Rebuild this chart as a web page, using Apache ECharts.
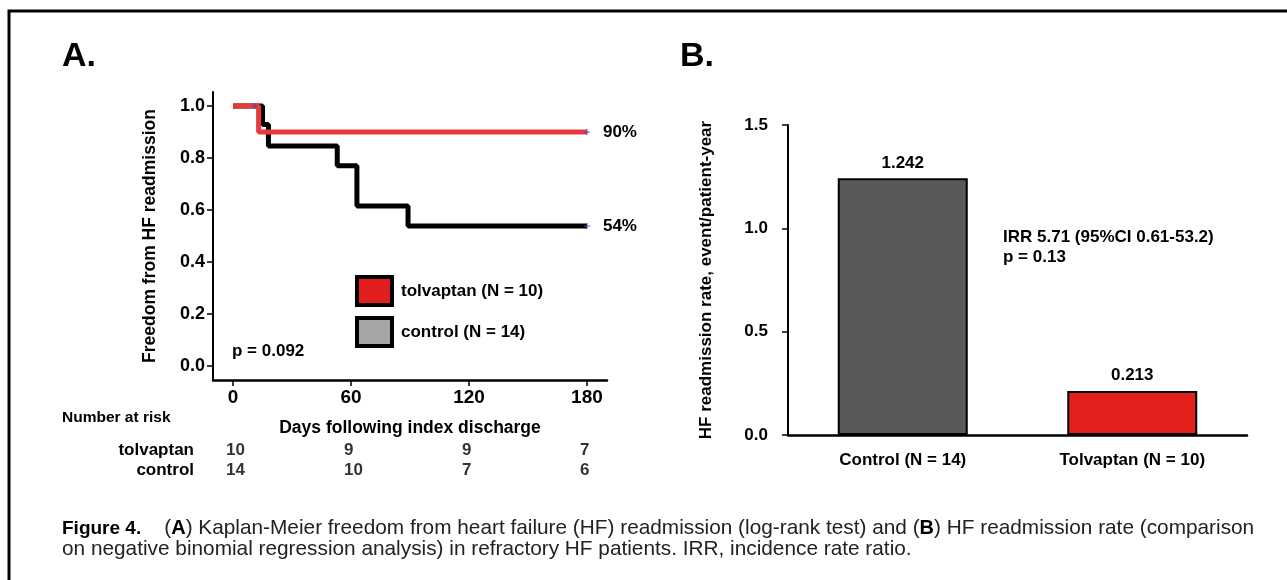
<!DOCTYPE html>
<html>
<head>
<meta charset="utf-8">
<script src="https://cdn.jsdelivr.net/npm/echarts@6/dist/echarts.min.js"></script>
<style>
  html, body { margin: 0; padding: 0; background: #fff; }
  #main { width: 1287px; height: 580px; }
</style>
</head>
<body>
<div id="main"></div>
<script>
// Kaplan-Meier steps [day, survival]
var TOLVAPTAN_CURVE = [[0, 1], [13, 0.9], [180, 0.9]];
var CONTROL_CURVE = [[0, 1], [15, 0.929], [18, 0.846], [53, 0.77], [63, 0.615], [89, 0.538], [180, 0.538]];
// censored observations
var TOLVAPTAN_CENSOR = [[11, 1], [180, 0.9]];
var CONTROL_CENSOR = [[180, 0.538]];

var DAY_TICKS = [0, 60, 120, 180];
var SURV_TICKS = [0, 0.2, 0.4, 0.6, 0.8, 1.0];

// number at risk table
var RISK_GROUPS = ["tolvaptan", "control"];
var RISK_TOLVAPTAN = [10, 9, 9, 7];
var RISK_CONTROL = [14, 10, 7, 6];

// panel B
var BAR_CATEGORIES = ["Control (N = 14)", "Tolvaptan (N = 10)"];
var BAR_VALUES = [1.242, 0.213];

var FONT = "'Liberation Sans', Arial, sans-serif";
var BAR_COLORS = ["#595959", "#e3201b"];

var chart = echarts.init(document.getElementById("main"));

function bold(size) {
  return { fontFamily: FONT, fontWeight: "bold", fontSize: size, color: "#000" };
}

function riskData(row, counts) {
  return DAY_TICKS.map(function (d, i) {
    return [d, row, counts[i]];
  });
}

function riskSeries(row, counts) {
  return {
    type: "scatter",
    xAxisIndex: 1,
    yAxisIndex: 1,
    data: riskData(row, counts),
    symbolSize: 1,
    itemStyle: { color: "transparent" },
    silent: true,
    label: Object.assign(bold(17), {
      show: true,
      position: "inside",
      align: "left",
      offset: [-7, 0],
      formatter: function (p) { return String(p.value[2]); }
    })
  };
}

var plus = "path://M4,0H6V4H10V6H6V10H4V6H0V4H4Z";

var option = {
  animation: false,
  backgroundColor: "#fff",
  grid: [
    { left: 213, top: 92, width: 394, height: 288 },
    { left: 213, top: 440, width: 394, height: 40 },
    { left: 788, top: 125, width: 459, height: 310 }
  ],
  legend: {
    data: [
      { name: "tolvaptan (N = 10)", itemStyle: { color: "#e31e1e" } },
      { name: "control (N = 14)", itemStyle: { color: "#a6a6a6" } }
    ],
    orient: "vertical",
    left: 355,
    top: 275,
    padding: 0,
    itemWidth: 35,
    itemHeight: 28,
    itemGap: 9,
    icon: "rect",
    selectedMode: false,
    itemStyle: { borderColor: "#000", borderWidth: 4 },
    textStyle: Object.assign(bold(17), { padding: [0, 0, 0, 4] })
  },
  xAxis: [
    {
      gridIndex: 0,
      type: "value",
      min: -10.2,
      max: 190.2,
      splitLine: { show: false },
      axisLine: { onZero: false, lineStyle: { color: "#000", width: 2.5 } },
      axisTick: { customValues: DAY_TICKS, length: 6, lineStyle: { color: "#000", width: 1.5 } },
      axisLabel: Object.assign(bold(19), { customValues: DAY_TICKS, margin: 8 }),
      name: "Days following index discharge",
      nameLocation: "middle",
      nameGap: 39,
      nameTextStyle: bold(17.5)
    },
    {
      gridIndex: 1,
      type: "value",
      min: -10.2,
      max: 190.2,
      show: false
    },
    {
      gridIndex: 2,
      type: "category",
      data: BAR_CATEGORIES,
      axisLine: { lineStyle: { color: "#000", width: 2.5 } },
      axisTick: { show: false },
      axisLabel: Object.assign(bold(17), { margin: 17 })
    }
  ],
  yAxis: [
    {
      gridIndex: 0,
      type: "value",
      min: -0.054,
      max: 1.054,
      splitLine: { show: false },
      axisLine: { show: true, onZero: false, lineStyle: { color: "#000", width: 2 } },
      axisTick: { show: true, customValues: SURV_TICKS, length: 6, lineStyle: { color: "#000", width: 1.5 } },
      axisLabel: Object.assign(bold(18), {
        customValues: SURV_TICKS,
        margin: 8,
        formatter: function (v) { return v.toFixed(1); }
      }),
      name: "Freedom from HF readmission",
      nameLocation: "middle",
      nameGap: 54,
      nameRotate: 90,
      nameTextStyle: bold(17.5)
    },
    {
      gridIndex: 1,
      type: "category",
      data: RISK_GROUPS,
      inverse: true,
      axisLine: { show: false },
      axisTick: { show: false },
      splitLine: { show: false },
      axisLabel: Object.assign(bold(17), { margin: 19, interval: 0 })
    },
    {
      gridIndex: 2,
      type: "value",
      min: 0,
      max: 1.5,
      interval: 0.5,
      splitLine: { show: false },
      axisLine: { show: true, lineStyle: { color: "#000", width: 2 } },
      axisTick: { show: true, length: 6, lineStyle: { color: "#000", width: 1.5 } },
      axisLabel: Object.assign(bold(17), {
        margin: 20,
        formatter: function (v) { return v.toFixed(1); }
      }),
      name: "HF readmission rate, event/patient-year",
      nameLocation: "middle",
      nameGap: 73,
      nameRotate: 90,
      nameTextStyle: bold(17)
    }
  ],
  series: [
    {
      name: "control (N = 14)",
      type: "line",
      xAxisIndex: 0,
      yAxisIndex: 0,
      step: "end",
      data: CONTROL_CURVE,
      symbol: "none",
      color: "#000",
      lineStyle: { color: "#000", width: 5 },
      z: 2,
      endLabel: Object.assign(bold(17), {
        show: true,
        distance: 16,
        formatter: function (p) { return Math.round(p.value[1] * 100) + "%"; }
      })
    },
    {
      name: "tolvaptan (N = 10)",
      type: "line",
      xAxisIndex: 0,
      yAxisIndex: 0,
      step: "end",
      data: TOLVAPTAN_CURVE,
      symbol: "none",
      color: "#e8393e",
      lineStyle: { color: "#e8393e", width: 5 },
      z: 3,
      endLabel: Object.assign(bold(17), {
        show: true,
        distance: 16,
        formatter: function (p) { return Math.round(p.value[1] * 100) + "%"; }
      })
    },
    {
      type: "scatter",
      xAxisIndex: 0,
      yAxisIndex: 0,
      data: TOLVAPTAN_CENSOR.concat(CONTROL_CENSOR),
      symbol: plus,
      symbolSize: 6,
      itemStyle: { color: "#3b4fb5" },
      z: 4,
      silent: true
    },
    riskSeries(0, RISK_TOLVAPTAN),
    riskSeries(1, RISK_CONTROL),
    {
      type: "bar",
      xAxisIndex: 2,
      yAxisIndex: 2,
      barWidth: 130,
      data: BAR_VALUES.map(function (v, i) {
        return { value: v, itemStyle: { color: BAR_COLORS[i] } };
      }),
      itemStyle: { borderColor: "#000", borderWidth: 2 },
      label: Object.assign(bold(17), { show: true, position: "top", distance: 7 })
    }
  ],
  graphic: [
    {
      type: "polyline",
      shape: { points: [[9, 580], [9, 11], [1287, 11]] },
      style: { stroke: "#000", lineWidth: 3, fill: null }
    },
    { type: "text", left: 62, top: 40, style: { text: "A.", font: "bold 34px " + FONT, fill: "#000" } },
    { type: "text", left: 680, top: 40, style: { text: "B.", font: "bold 34px " + FONT, fill: "#000" } },
    { type: "text", left: 232, top: 343, style: { text: "p = 0.092", font: "bold 17px " + FONT, fill: "#000" } },
    { type: "text", left: 62, top: 410, style: { text: "Number at risk", font: "bold 15.5px " + FONT, fill: "#000" } },
    {
      type: "text",
      left: 1003,
      top: 227,
      style: {
        text: "IRR 5.71 (95%CI 0.61-53.2)\np = 0.13",
        font: "bold 17px " + FONT,
        lineHeight: 20,
        fill: "#000"
      }
    },
    {
      type: "text",
      left: 62,
      top: 518,
      style: {
        text: "{f|Figure 4.}    ({b|A}) Kaplan-Meier freedom from heart failure (HF) readmission (log-rank test) and ({b|B}) HF readmission rate (comparison\non negative binomial regression analysis) in refractory HF patients. IRR, incidence rate ratio.",
        fontFamily: FONT,
        fontSize: 20.8,
        lineHeight: 21,
        fill: "#222",
        rich: {
          f: { fontFamily: FONT, fontWeight: "bold", fontSize: 19, lineHeight: 21, fill: "#000" },
          b: { fontFamily: FONT, fontWeight: "bold", fontSize: 20, lineHeight: 21, fill: "#000" }
        }
      }
    }
  ]
};

chart.setOption(option);
</script>
</body>
</html>
